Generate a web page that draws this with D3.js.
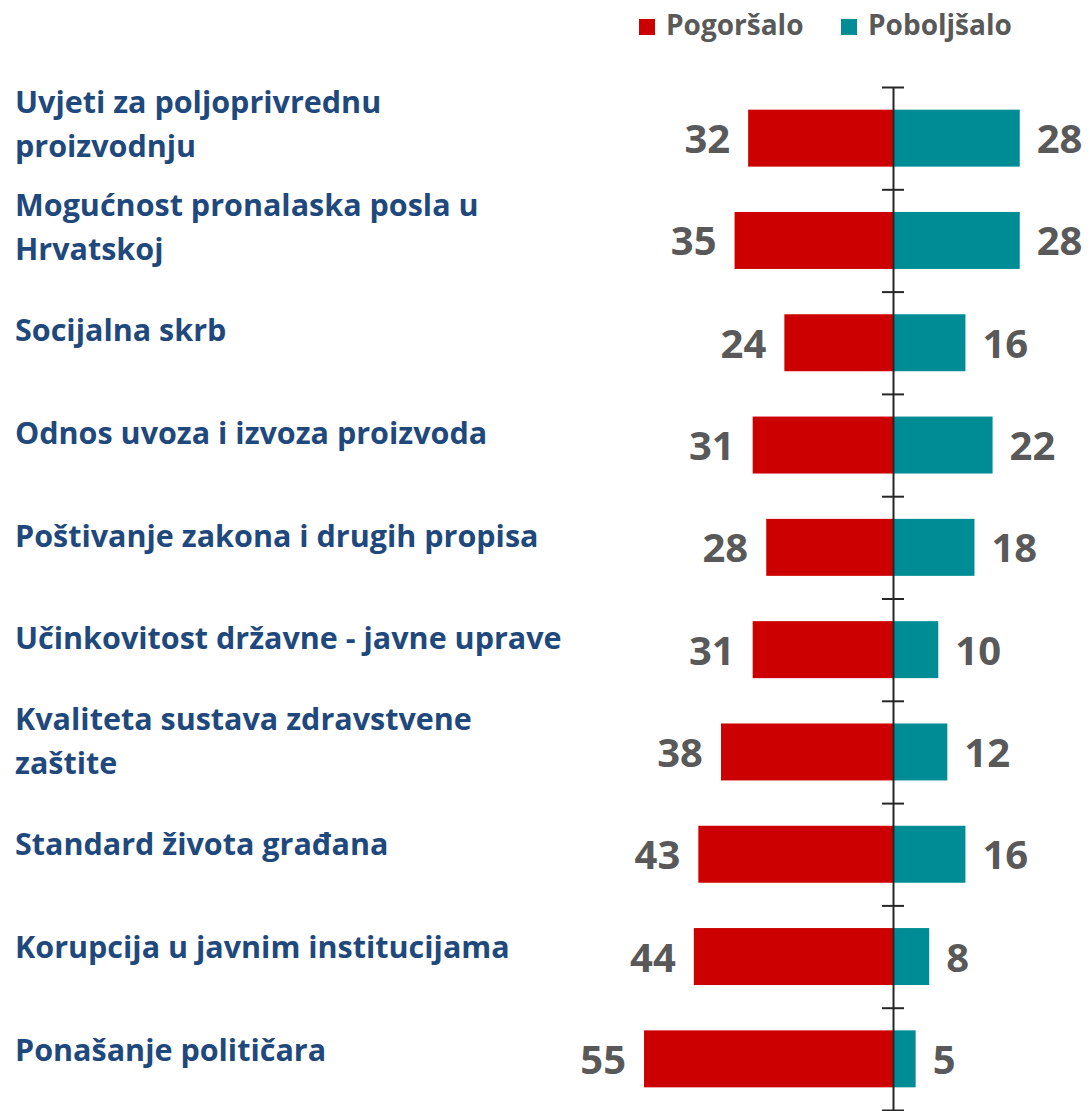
<!DOCTYPE html>
<html>
<head>
<meta charset="utf-8">
<script src="https://cdn.jsdelivr.net/npm/d3@7"></script>
<style>
    body { margin: 0; background: #fff; }
    svg { display: block; font-family: "Open Sans", sans-serif; font-weight: bold; }
</style>
</head>
<body>
<div id="chart"></div>
<script>
// categories (lines split as in the original labels)
const categories = [
    ["Uvjeti za poljoprivrednu", "proizvodnju"],
    ["Mogućnost pronalaska posla u", "Hrvatskoj"],
    ["Socijalna skrb"],
    ["Odnos uvoza i izvoza proizvoda"],
    ["Poštivanje zakona i drugih propisa"],
    ["Učinkovitost državne - javne uprave"],
    ["Kvaliteta sustava zdravstvene", "zaštite"],
    ["Standard života građana"],
    ["Korupcija u javnim institucijama"],
    ["Ponašanje političara"]
];
const worse = [32, 35, 24, 31, 28, 31, 38, 43, 44, 55];
const better = [28, 28, 16, 22, 18, 10, 12, 16, 8, 5];
const seriesNames = ["Pogoršalo", "Poboljšalo"];
const colors = ["#CC0000", "#008C95"];

const width = 1090, height = 1111;

const svg = d3.select("#chart").append("svg")
    .attr("width", width)
    .attr("height", height);

const keys = categories.map(c => c.join(" "));

const y = d3.scaleBand()
    .domain(keys)
    .range([87, 1110])
    .paddingInner(0.443)
    .paddingOuter(0.2215);

// labels sit on a slightly wider grid than the bars
const yLabel = d3.scaleBand()
    .domain(keys)
    .range([87, 1115]);

const x = d3.scaleLinear()
    .domain([-60, 60])
    .range([893 - 271.6, 893 + 271.6]);

const rows = keys.map((k, i) => ({ key: k, lines: categories[i], worse: worse[i], better: better[i] }));

// bars
svg.append("g").selectAll("rect")
    .data(rows)
    .join("rect")
    .attr("x", d => x(-d.worse))
    .attr("y", d => y(d.key))
    .attr("width", d => x(0) - x(-d.worse))
    .attr("height", y.bandwidth())
    .attr("fill", colors[0]);

svg.append("g").selectAll("rect")
    .data(rows)
    .join("rect")
    .attr("x", x(0))
    .attr("y", d => y(d.key))
    .attr("width", d => x(d.better) - x(0))
    .attr("height", y.bandwidth())
    .attr("fill", colors[1]);

// centre axis with ticks between categories
const yIdx = d3.scaleLinear().domain([0, keys.length]).range(y.range());
const axis = svg.append("g")
    .attr("transform", `translate(${x(0)},0)`)
    .call(d3.axisLeft(yIdx).ticks(keys.length).tickSizeOuter(0).tickFormat(""));
axis.select(".domain").attr("stroke", "#262626").attr("stroke-width", 2);
axis.selectAll(".tick line")
    .attr("x1", -11).attr("x2", 11)
    .attr("stroke", "#262626").attr("stroke-width", 2);

// value labels
const valueFont = 40;
svg.append("g").selectAll("text")
    .data(rows)
    .join("text")
    .attr("x", d => x(-d.worse) - 18)
    .attr("y", d => y(d.key) + y.bandwidth() / 2 + 15)
    .attr("text-anchor", "end")
    .attr("font-size", valueFont)
    .attr("fill", "#595959")
    .text(d => d.worse);

svg.append("g").selectAll("text")
    .data(rows)
    .join("text")
    .attr("x", d => x(d.better) + 17)
    .attr("y", d => y(d.key) + y.bandwidth() / 2 + 15)
    .attr("text-anchor", "start")
    .attr("font-size", valueFont)
    .attr("fill", "#595959")
    .text(d => d.better);

// category labels
const lineH = 44;
const labels = svg.append("g").selectAll("text")
    .data(rows)
    .join("text")
    .attr("font-size", 30.5)
    .attr("fill", "#1F497D");
labels.each(function (d) {
    const c = yLabel(d.key) + yLabel.bandwidth() / 2 - 3;
    const n = d.lines.length;
    d3.select(this).selectAll("tspan")
        .data(d.lines)
        .join("tspan")
        .attr("x", 15)
        .attr("y", (l, i) => c + (i - (n - 1) / 2) * lineH)
        .text(l => l);
});

// legend
const legendX = [639, 841];
const legend = svg.append("g").selectAll("g")
    .data(seriesNames)
    .join("g")
    .attr("transform", (d, i) => `translate(${legendX[i]},19)`);
legend.append("rect")
    .attr("width", 16).attr("height", 16)
    .attr("fill", (d, i) => colors[i]);
legend.append("text")
    .attr("x", 27).attr("y", 16)
    .attr("font-size", 28)
    .attr("fill", "#595959")
    .text(d => d);
</script>
</body>
</html>
